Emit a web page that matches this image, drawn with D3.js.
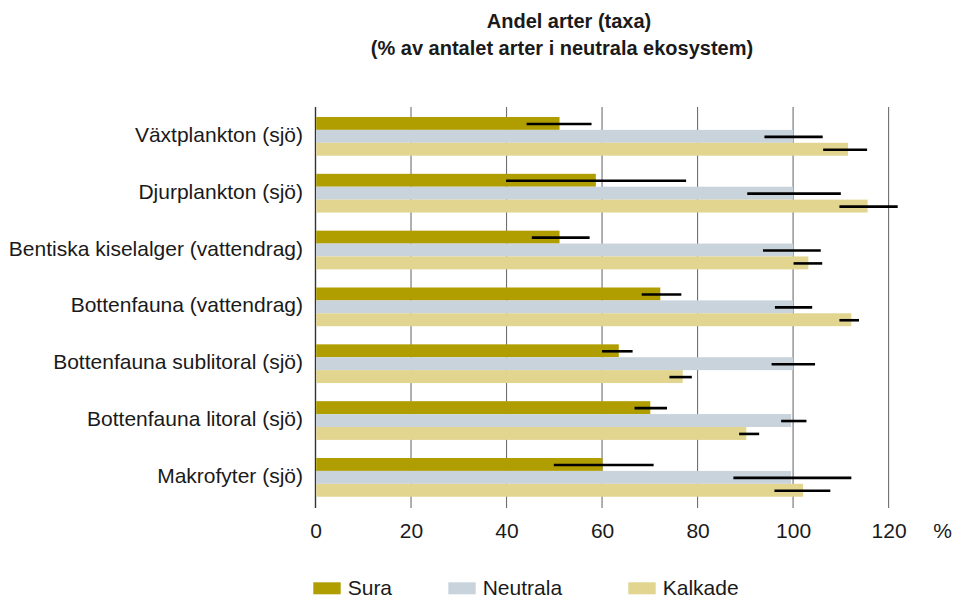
<!DOCTYPE html>
<html>
<head>
<meta charset="utf-8">
<script src="https://cdn.jsdelivr.net/npm/d3@7"></script>
<style>
  html, body { margin: 0; padding: 0; background: #fff; }
  svg { display: block; font-family: "Liberation Sans", Arial, sans-serif; }
</style>
</head>
<body>
<svg id="chart" width="957" height="601"></svg>
<script>
// Andel arter per organismgrupp, % av antalet arter i neutrala ekosystem
const categories = [
  "Växtplankton (sjö)",
  "Djurplankton (sjö)",
  "Bentiska kiselalger (vattendrag)",
  "Bottenfauna (vattendrag)",
  "Bottenfauna sublitoral (sjö)",
  "Bottenfauna litoral (sjö)",
  "Makrofyter (sjö)"
];
const seriesNames = ["Sura", "Neutrala", "Kalkade"];

const sura     = [51.1, 58.7, 51.1, 72.2, 63.5, 70.1, 60.1];
const neutrala = [100, 100, 100, 100, 100, 99.6, 99.6];
const kalkade  = [111.5, 115.6, 103.2, 112.2, 76.9, 90.2, 102.1];

// Spridning (lägsta, högsta) per grupp
const suraErr     = [[44.2, 57.8], [39.9, 77.6], [45.3, 57.4], [68.3, 76.6], [60.0, 66.4], [66.8, 73.6], [49.9, 70.8]];
const neutralaErr = [[94.0, 106.2], [90.4, 110.0], [93.7, 105.8], [96.2, 104.0], [95.5, 104.6], [97.5, 102.8], [87.5, 112.2]];
const kalkadeErr  = [[106.3, 115.5], [109.7, 121.9], [100.1, 106.1], [109.7, 113.8], [74.1, 78.8], [88.7, 92.9], [96.1, 107.8]];

const xTicks = [0, 20, 40, 60, 80, 100, 120];

const colors = ["#b09e00", "#c9d3dc", "#e1d58f"];

const values = [sura, neutrala, kalkade];
const errors = [suraErr, neutralaErr, kalkadeErr];

const rows = categories.map((c, i) => ({
  category: c,
  items: seriesNames.map((s, k) => ({
    series: s,
    value: values[k][i],
    lo: errors[k][i][0],
    hi: errors[k][i][1]
  }))
}));

const svg = d3.select("#chart");
const textColor = "#1a1a1a";

const x = d3.scaleLinear().domain([0, 120]).range([315.5, 888.6]);
const y = d3.scaleBand().domain(categories).range([108, 505.7])
  .paddingInner(0.319).paddingOuter(0.158);
const ySub = d3.scaleBand().domain(seriesNames).range([0, y.bandwidth()]).padding(0);

const gridTop = 107, gridBottom = 508;

// Title
const title = svg.append("g")
  .attr("font-weight", "bold")
  .attr("font-size", 20)
  .attr("fill", textColor)
  .attr("text-anchor", "middle");
title.append("text").attr("x", 569).attr("y", 28).text("Andel arter (taxa)");
title.append("text").attr("x", 562).attr("y", 55).text("(% av antalet arter i neutrala ekosystem)");

// Vertical gridlines
svg.append("g")
  .selectAll("line")
  .data(xTicks)
  .join("line")
  .attr("x1", d => x(d)).attr("x2", d => x(d))
  .attr("y1", gridTop).attr("y2", gridBottom)
  .attr("stroke", d => d === 0 ? "#333" : "#6f6f6f")
  .attr("stroke-width", d => d === 0 ? 1.4 : 1.1);

// Bars
const groups = svg.append("g")
  .selectAll("g")
  .data(rows)
  .join("g")
  .attr("transform", d => `translate(0,${y(d.category)})`);

groups.selectAll("rect")
  .data(d => d.items)
  .join("rect")
  .attr("x", x(0) + 0.7)
  .attr("y", d => ySub(d.series))
  .attr("width", d => x(d.value) - x(0) - 0.7)
  .attr("height", ySub.bandwidth())
  .attr("fill", (d, k) => colors[k]);

// Error bars
groups.selectAll("line.err")
  .data(d => d.items)
  .join("line")
  .attr("class", "err")
  .attr("x1", d => x(d.lo))
  .attr("x2", d => x(d.hi))
  .attr("y1", d => ySub(d.series) + ySub.bandwidth() / 2 + 0.5)
  .attr("y2", d => ySub(d.series) + ySub.bandwidth() / 2 + 0.5)
  .attr("stroke", "#000")
  .attr("stroke-width", 2.6);

// Category labels
svg.append("g")
  .attr("font-size", 21)
  .attr("fill", textColor)
  .attr("text-anchor", "end")
  .selectAll("text")
  .data(categories)
  .join("text")
  .attr("x", 303)
  .attr("y", d => y(d) + y.bandwidth() / 2 + 5.5)
  .text(d => d);

// X axis tick labels
const xAxis = svg.append("g")
  .attr("transform", `translate(0,${gridBottom})`)
  .call(d3.axisBottom(x).tickValues(xTicks).tickSize(0).tickPadding(0));
xAxis.select(".domain").remove();
xAxis.selectAll("text")
  .attr("dy", null)
  .attr("y", 30)
  .attr("font-size", 21)
  .attr("font-family", "Liberation Sans, Arial, sans-serif")
  .attr("fill", textColor);

svg.append("text")
  .attr("x", 942.7).attr("y", 538)
  .attr("text-anchor", "middle")
  .attr("font-size", 21)
  .attr("fill", textColor)
  .text("%");

// Legend
const legendX = [313.3, 448.3, 628.3];
const legend = svg.append("g")
  .selectAll("g")
  .data(seriesNames)
  .join("g")
  .attr("transform", (d, k) => `translate(${legendX[k]},582.3)`);
legend.append("rect")
  .attr("width", 27.4).attr("height", 12)
  .attr("fill", (d, k) => colors[k]);
legend.append("text")
  .attr("x", 34.4).attr("y", 12.7)
  .attr("font-size", 21)
  .attr("fill", textColor)
  .text(d => d);
</script>
</body>
</html>
